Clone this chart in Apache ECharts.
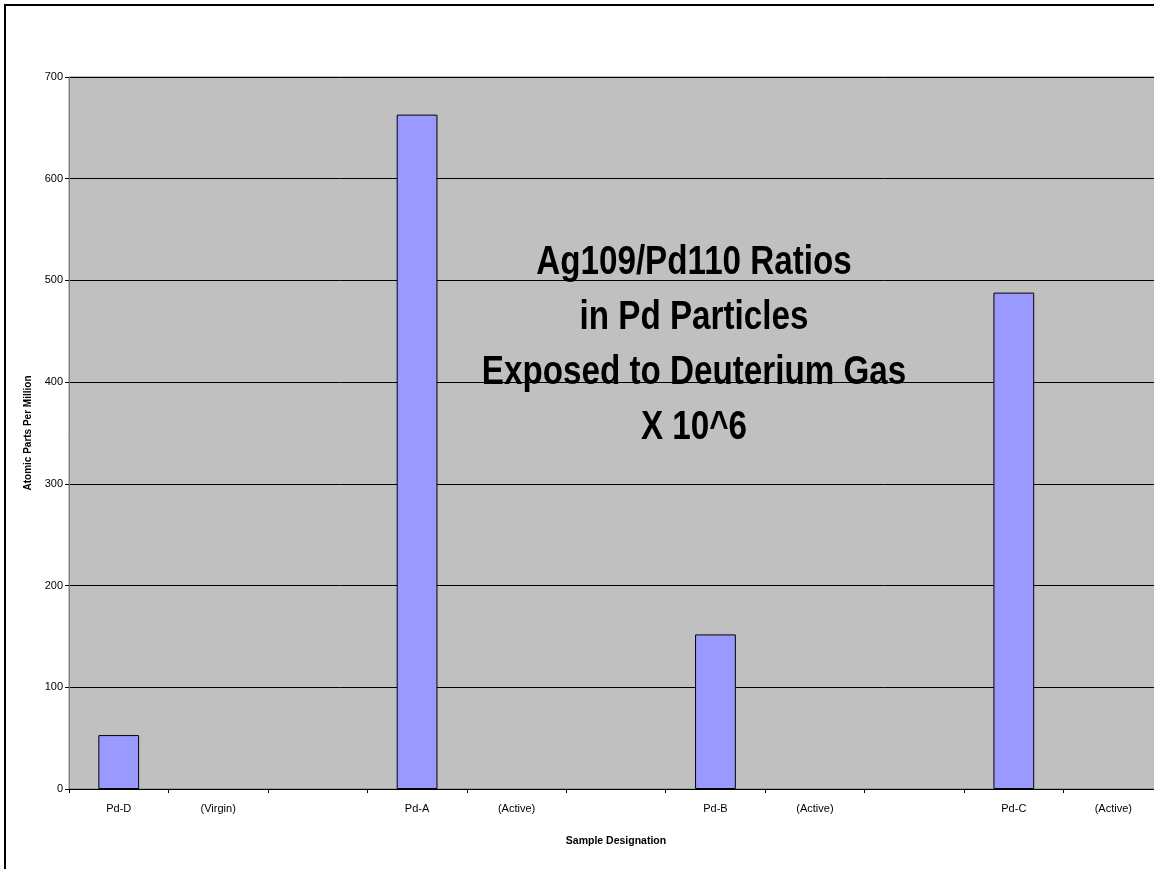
<!DOCTYPE html>
<html>
<head>
<meta charset="utf-8">
<script src="https://cdn.jsdelivr.net/npm/echarts@6/dist/echarts.min.js"></script>
<style>
html,body{margin:0;padding:0;background:#fff;}
#chart{width:1154px;height:869px;}
</style>
</head>
<body>
<div id="chart"></div>
<script>
const categories = ['Pd-D', '(Virgin)', '', 'Pd-A', '(Active)', '', 'Pd-B', '(Active)', '', 'Pd-C', '(Active)'];
const ratios = [53, null, null, 663, null, null, 152, null, null, 488, null];
const yTicks = { min: 0, max: 700, interval: 100 };
const titleText = 'Ag109/Pd110 Ratios\nin Pd Particles\nExposed to Deuterium Gas\nX 10^6';
const yName = 'Atomic Parts Per Million';
const xName = 'Sample Designation';

const font = "'Liberation Sans', Arial, sans-serif";
const chart = echarts.init(document.getElementById('chart'), null, { renderer: 'canvas' });
chart.setOption({
  animation: false,
  backgroundColor: '#ffffff',
  grid: {
    left: 69, top: 77, width: 1094, height: 712,
    show: true,
    backgroundColor: '#C0C0C0',
    borderColor: '#808080',
    borderWidth: 1,
    containLabel: false,
    outerBoundsMode: 'none'
  },
  xAxis: {
    type: 'category',
    data: categories,
    name: xName,
    nameLocation: 'middle',
    nameGap: 47,
    nameTextStyle: { fontFamily: font, fontSize: 10.5, fontWeight: 'bold', color: '#000' },
    axisLine: { show: true, lineStyle: { color: '#000', width: 1 } },
    axisTick: { show: true, interval: 0, length: 4, alignWithLabel: false, lineStyle: { color: '#000' } },
    axisLabel: { interval: 0, margin: 14, fontFamily: font, fontSize: 11, color: '#000' },
    splitLine: { show: false }
  },
  yAxis: {
    type: 'value',
    min: yTicks.min, max: yTicks.max, interval: yTicks.interval,
    name: yName,
    nameLocation: 'middle',
    nameRotate: 90,
    nameGap: 36,
    nameTextStyle: { fontFamily: font, fontSize: 10, fontWeight: 'bold', color: '#000' },
    axisLine: { show: true, lineStyle: { color: '#808080', width: 1 } },
    axisTick: { show: true, length: 4, lineStyle: { color: '#000' } },
    axisLabel: { margin: 6, fontFamily: font, fontSize: 11, color: '#000' },
    splitLine: { show: true, lineStyle: { color: '#000', width: 1 } }
  },
  series: [{
    type: 'bar',
    data: ratios,
    barWidth: '41%',
    itemStyle: { color: '#9999FF', borderColor: '#000', borderWidth: 1 }
  }],
  graphic: [{
    type: 'rect',
    shape: { x: 5, y: 5, width: 1170, height: 900 },
    style: { fill: null, stroke: '#000', lineWidth: 2 },
    silent: true,
    z: 100
  }, {
    type: 'text',
    x: 694,
    y: 345,
    scaleX: 0.83,
    silent: true,
    z: 100,
    style: {
      text: titleText,
      fontFamily: font,
      fontSize: 40,
      fontWeight: 'bold',
      fill: '#000',
      lineHeight: 55,
      textAlign: 'center',
      textVerticalAlign: 'middle',
      align: 'center',
      verticalAlign: 'middle'
    }
  }]
});
</script>
</body>
</html>
